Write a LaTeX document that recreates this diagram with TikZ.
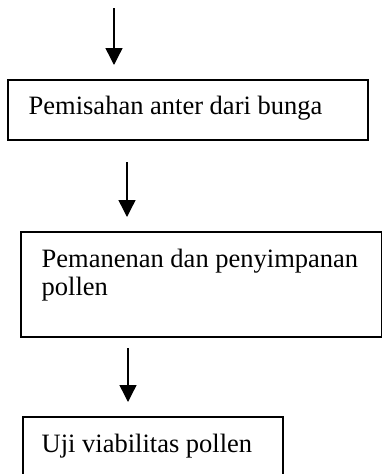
\documentclass[tikz,border=0pt]{standalone}
\usepackage{fontspec}
\setmainfont{Liberation Serif}
\usetikzlibrary{arrows.meta}
\begin{document}
\begin{tikzpicture}[x=1pt,y=-1pt,
  boxstyle/.style={draw=black, line width=2pt, inner sep=0pt, anchor=north west},
  label/.style={anchor=base west, inner sep=0pt, font=\fontsize{26.5}{28}\selectfont, align=left},
  arr/.style={line width=1.4pt, -{Triangle[width=17pt,length=17pt]}}]
\useasboundingbox (0,0) rectangle (382,474);
\clip (0,0) rectangle (382,474);
% boxes
\node[boxstyle, minimum width=360pt, minimum height=60pt] (b1) at (7,79) {};
\node[boxstyle, minimum width=361pt, minimum height=105pt] (b2) at (20,231) {};
\node[boxstyle, minimum width=260pt, minimum height=80pt] (b3) at (22,416) {};
% texts
\node[label] (t1) at (28.5,114) {Pemisahan anter dari bunga};
\node[label] (t2a) at (41.5,267) {Pemanenan dan penyimpanan};
\node[label] (t2b) at (41.5,295) {pollen};
\node[label] (t3) at (41.5,452) {Uji viabilitas pollen};
% arrow end points
\coordinate (s1) at (114,8);
\coordinate (x2) at (127,0);
\coordinate (x3) at (128,0);
\draw[arr, shorten >=14pt] (s1) -- (s1 |- b1.north);
\draw[arr, shorten <=21pt, shorten >=14pt] (b1.south -| x2) -- (b2.north -| x2);
\draw[arr, shorten <=10pt, shorten >=14pt] (b2.south -| x3) -- (b3.north -| x3);
\end{tikzpicture}
\end{document}
